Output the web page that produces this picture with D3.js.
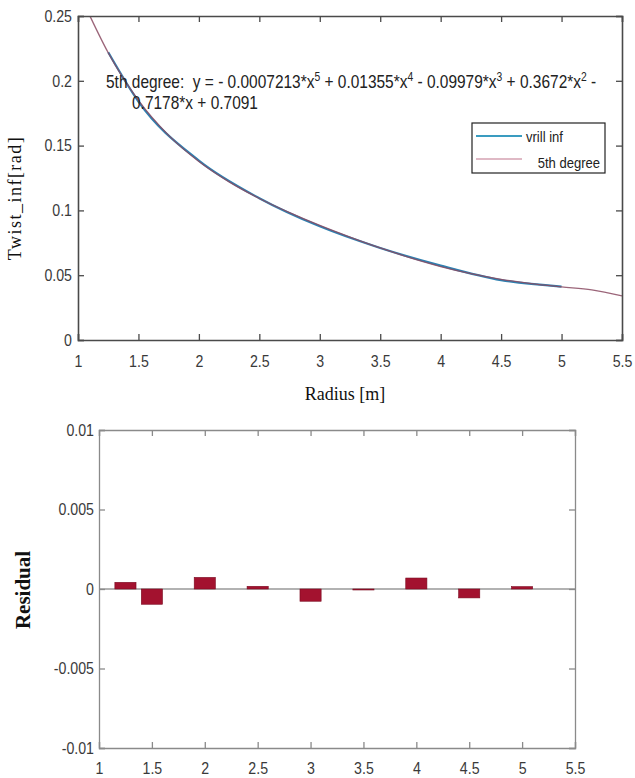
<!DOCTYPE html>
<html>
<head>
<meta charset="utf-8">
<script src="https://cdn.jsdelivr.net/npm/d3@7"></script>
<style>
  body { margin: 0; background: #fff; }
  svg text { font-family: "Liberation Sans", Arial, sans-serif; }
  .serif { font-family: "Liberation Serif", "Times New Roman", serif !important; }
</style>
</head>
<body>
<svg id="chart" width="635" height="778"></svg>
<script>
// Data
const radius = [1.25, 1.5, 2, 2.5, 3, 3.5, 4, 4.5, 5];
const twistInf = [0.2220, 0.1840, 0.1384, 0.1094, 0.0877, 0.0710, 0.0574, 0.0462, 0.0412];
const fitX = [1.1, 1.25, 1.5, 1.75, 2, 2.25, 2.5, 2.75, 3, 3.25, 3.5, 3.75, 4, 4.25, 4.5, 4.75, 5, 5.25, 5.5];
const fitY = [0.2497, 0.2216, 0.1849, 0.1579, 0.1377, 0.1220, 0.1092, 0.0983, 0.0884, 0.0794, 0.0710, 0.0634, 0.0567, 0.0512, 0.0468, 0.0435, 0.0410, 0.0387, 0.0340];
const residual = [0.00042, -0.00096, 0.00073, 0.00017, -0.00077, -0.00004, 0.00069, -0.00056, 0.00015];
const xTicks = [1, 1.5, 2, 2.5, 3, 3.5, 4, 4.5, 5, 5.5];
const yTicksTop = [0, 0.05, 0.1, 0.15, 0.2, 0.25];
const yTicksBottom = [-0.01, -0.005, 0, 0.005, 0.01];
const legendLabels = ["vrill inf", "5th degree"];

const svg = d3.select("#chart");

// narrow sans text (the reference font is condensed)
function narrowText(parent, x, y, sx, size, anchor) {
  return parent.append("g").attr("transform", `translate(${x},${y}) scale(${sx},1)`)
    .append("text").attr("text-anchor", anchor || "start").attr("fill", "#222")
    .style("font-size", size + "px").style("white-space", "pre");
}

// frame with ticks on all four sides (inward)
function frame(g, x, y, box, color, width, xt, yt, padX, padY) {
  const fmt = d => String(d);
  const gx = g.append("g").attr("transform", `translate(0,${box.bottom})`)
    .call(d3.axisBottom(x).tickValues(xt).tickSize(-6).tickPadding(padX).tickFormat(fmt));
  g.append("g").attr("transform", `translate(0,${box.top})`)
    .call(d3.axisTop(x).tickValues(xt).tickSize(-6).tickFormat(""));
  const gy = g.append("g").attr("transform", `translate(${box.left},0)`)
    .call(d3.axisLeft(y).tickValues(yt).tickSize(-6).tickPadding(padY).tickFormat(fmt));
  g.append("g").attr("transform", `translate(${box.right},0)`)
    .call(d3.axisRight(y).tickValues(yt).tickSize(-6).tickFormat(""));
  g.selectAll(".domain").attr("stroke", color).attr("stroke-width", width);
  g.selectAll(".tick line").attr("stroke", color).attr("stroke-width", 1.3);
  g.selectAll(".tick text").attr("fill", "#3a3a3a").style("font-size", "16.5px")
    .style("transform-box", "fill-box").style("transform", "scaleX(0.86)");
  gx.selectAll(".tick text").style("transform-origin", "center");
  gy.selectAll(".tick text").style("transform-origin", "right center");
}

// ---------- top plot ----------
const topBox = { left: 78, right: 622, top: 16, bottom: 340 };
const x1 = d3.scaleLinear().domain([1, 5.5]).range([topBox.left, topBox.right]);
const y1 = d3.scaleLinear().domain([0, 0.25]).range([topBox.bottom, topBox.top]);
const g1 = svg.append("g");
const line = d3.line().curve(d3.curveMonotoneX);

// data line (blue) then fit (red) on top
g1.append("path")
  .attr("d", line(radius.map((r, i) => [x1(r), y1(twistInf[i])])))
  .attr("fill", "none").attr("stroke", "#2f80b0").attr("stroke-width", 2.2);
g1.append("path")
  .attr("d", line(fitX.map((r, i) => [x1(r), y1(fitY[i])])))
  .attr("fill", "none").attr("stroke", "#8a4a62").attr("stroke-width", 1.3).attr("opacity", 0.85);

frame(g1, x1, y1, topBox, "#4a4a4a", 1.6, xTicks, yTicksTop, 15, 6);

// equation text with superscript powers
const eq = narrowText(g1, 106, 88, 0.86, 18);
const parts = [["5th degree:  y = - 0.0007213*x", "5"], [" + 0.01355*x", "4"], [" - 0.09979*x", "3"], [" + 0.3672*x", "2"], [" -", null]];
let shift = 0;
parts.forEach(([t, s]) => {
  eq.append("tspan").attr("dy", shift).text(t);
  shift = 0;
  if (s) {
    eq.append("tspan").attr("dy", -7).style("font-size", "12px").text(s);
    shift = 7;
  }
});
narrowText(g1, 132, 109, 0.86, 18).text("0.7178*x + 0.7091");

// legend
const lg = g1.append("g");
lg.append("rect").attr("x", 472).attr("y", 123).attr("width", 133).attr("height", 50)
  .attr("fill", "#fff").attr("stroke", "#222").attr("stroke-width", 1.2);
lg.append("line").attr("x1", 476).attr("x2", 522).attr("y1", 136).attr("y2", 136)
  .attr("stroke", "#3a9cc0").attr("stroke-width", 2);
lg.append("line").attr("x1", 476).attr("x2", 522).attr("y1", 159).attr("y2", 159)
  .attr("stroke", "#d4a2b2").attr("stroke-width", 1.5);
narrowText(lg, 526, 142, 0.87, 15).text(legendLabels[0]);
narrowText(lg, 600, 168, 0.87, 15, "end").text(legendLabels[1]);

// axis labels
svg.append("text").attr("class", "serif").attr("transform", "translate(21,198) rotate(-90)")
  .attr("text-anchor", "middle").attr("fill", "#111").style("font-size", "18px")
  .style("letter-spacing", "1.5px").text("Twist_inf[rad]");
svg.append("text").attr("class", "serif").attr("x", 345).attr("y", 400)
  .attr("text-anchor", "middle").attr("fill", "#111").style("font-size", "18px").text("Radius [m]");

// ---------- bottom plot ----------
const botBox = { left: 99, right: 575, top: 430, bottom: 748 };
const x2 = d3.scaleLinear().domain([1, 5.5]).range([botBox.left, botBox.right]);
const y2 = d3.scaleLinear().domain([-0.01, 0.01]).range([botBox.bottom, botBox.top]);
const g2 = svg.append("g");

// zero line
g2.append("line").attr("x1", botBox.left).attr("x2", botBox.right).attr("y1", y2(0)).attr("y2", y2(0))
  .attr("stroke", "#999").attr("stroke-width", 1.6);

const bw = x2(1.2) - x2(1);
g2.selectAll("rect.bar").data(residual).enter().append("rect")
  .attr("class", "bar")
  .attr("x", (d, i) => x2(radius[i]) - bw / 2)
  .attr("width", bw)
  .attr("y", d => y2(Math.max(0, d)))
  .attr("height", d => Math.max(1, Math.abs(y2(d) - y2(0))))
  .attr("fill", "#a3122f").attr("stroke", "#7a0a20").attr("stroke-width", 0.6);

frame(g2, x2, y2, botBox, "#8a8a8a", 1.3, xTicks, yTicksBottom, 14, 5);

svg.append("text").attr("class", "serif").attr("transform", "translate(30,590) rotate(-90)")
  .attr("text-anchor", "middle").attr("fill", "#111").style("font-size", "21px").style("font-weight", "bold").text("Residual");
</script>
</body>
</html>
